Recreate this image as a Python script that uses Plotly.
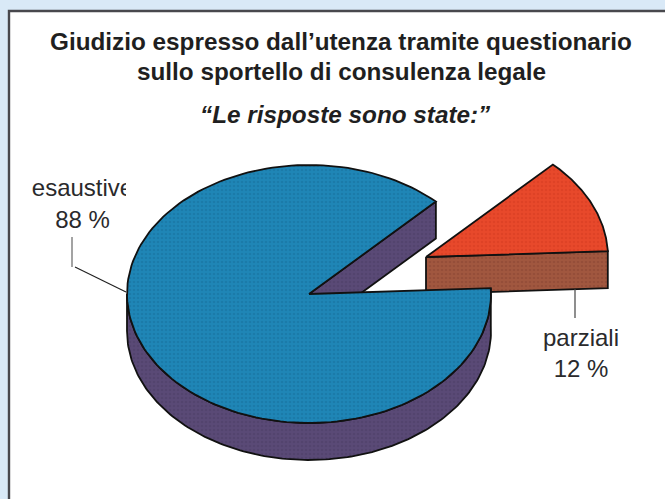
import numpy as np
import plotly.graph_objects as go

# Survey answers, in percent
categories = ["esaustive", "parziali"]
shares = [88, 12]

W, H = 665, 499
CX, CY = 309, 294      # centre of the main slice's top face
RX, RY = 182, 129      # ellipse radii of the tilted disc
DEPTH = 37             # wall height
START = 2.6            # degrees where the small slice begins
OFFSET = (117, -37)    # displacement of the exploded slice

BLUE, PURPLE = "#1f86b6", "#5a4a76"
RED, BROWN = "#e8492b", "#a1573f"
EDGE = "#111111"
INK = "#2a2a2c"


def arc(a0, a1, cx=CX, cy=CY, n=160):
    t = np.radians(np.linspace(a0, a1, n))
    return cx + RX * np.cos(t), cy - RY * np.sin(t)


def face(fig, xs, ys, colour, ink):
    fig.add_trace(go.Scatter(
        x=np.r_[xs, xs[0]], y=np.r_[ys, ys[0]], mode="lines", fill="toself",
        fillcolor=colour,
        fillpattern=dict(shape=".", size=4, solidity=0.35, fgcolor=ink, bgcolor=colour),
        line=dict(color=EDGE, width=1.8), hoverinfo="skip", showlegend=False,
    ))


small_sweep = shares[1] / sum(shares) * 360
end = START + small_sweep
fig = go.Figure()

# Exploded slice: wall first, then its top
ox, oy = CX + OFFSET[0], CY + OFFSET[1]
ax, ay = arc(START, end, ox, oy)
face(fig, np.r_[ox, ax[0], ax[0], ox], np.r_[oy, ay[0], ay[0] + DEPTH, oy + DEPTH], BROWN, "#8a4634")
face(fig, np.r_[ox, ax], np.r_[oy, ay], RED, "#d43c22")

# Main slice: outer wall, cut face, then top
wx, wy = arc(START, -180)
face(fig, np.r_[wx, wx[::-1]], np.r_[wy, wy[::-1] + DEPTH], PURPLE, "#4b3d66")
bx, by = arc(end, 360 + START)
face(fig, np.r_[CX, bx[0], bx[0], CX], np.r_[CY, by[0], by[0] + DEPTH, CY + DEPTH], PURPLE, "#4b3d66")
face(fig, np.r_[CX, bx], np.r_[CY, by], BLUE, "#176f9c")

# Leader lines
for xs, ys, c in [([72, 72], [237, 267], "#666666"), ([75, 126], [267, 292], "#222222"),
                  ([575, 575], [289, 318], "#444444")]:
    fig.add_trace(go.Scatter(x=xs, y=ys, mode="lines", line=dict(color=c, width=1.2),
                             hoverinfo="skip", showlegend=False))

# Slice labels
label_font = dict(family="Liberation Sans", size=24, color=INK)
for (x, y1, y2), name, share in zip([(82.5, 190, 222), (581, 340, 371)], categories, shares):
    fig.add_trace(go.Scatter(x=[x, x], y=[y1, y2], mode="text", text=[name, f"{share} %"],
                             textposition="middle center", textfont=label_font,
                             hoverinfo="skip", showlegend=False))

# The first label is trimmed on its right side
fig.add_trace(go.Scatter(x=[126, 140, 140, 126, 126], y=[170, 170, 207, 207, 170], mode="lines",
                         fill="toself", fillcolor="white", line=dict(width=0),
                         hoverinfo="skip", showlegend=False))

title_font = dict(family="Liberation Sans", size=24.3, color="#1f1f21")
notes = [("<b>Giudizio espresso dall’utenza tramite questionario</b>", 341, 41),
         ("<b>sullo sportello di consulenza legale</b>", 341, 71),
         ("<b><i>“Le risposte sono state:”</i></b>", 345, 114)]

fig.update_layout(
    width=W, height=H, margin=dict(l=0, r=0, t=0, b=0),
    paper_bgcolor="#d9e9f7", plot_bgcolor="rgba(0,0,0,0)", showlegend=False,
    xaxis=dict(range=[0, W], visible=False, fixedrange=True),
    yaxis=dict(range=[H, 0], visible=False, fixedrange=True),
    shapes=[dict(type="rect", layer="below", x0=9, y0=11, x1=W + 5, y1=H + 5,
                 fillcolor="white", line=dict(color="#48484d", width=2.4))],
    annotations=[dict(text=t, x=x, y=y, xref="x", yref="y", showarrow=False,
                      xanchor="center", yanchor="middle", font=title_font) for t, x, y in notes],
)
fig.write_html("out.html", config=dict(displayModeBar=False))
